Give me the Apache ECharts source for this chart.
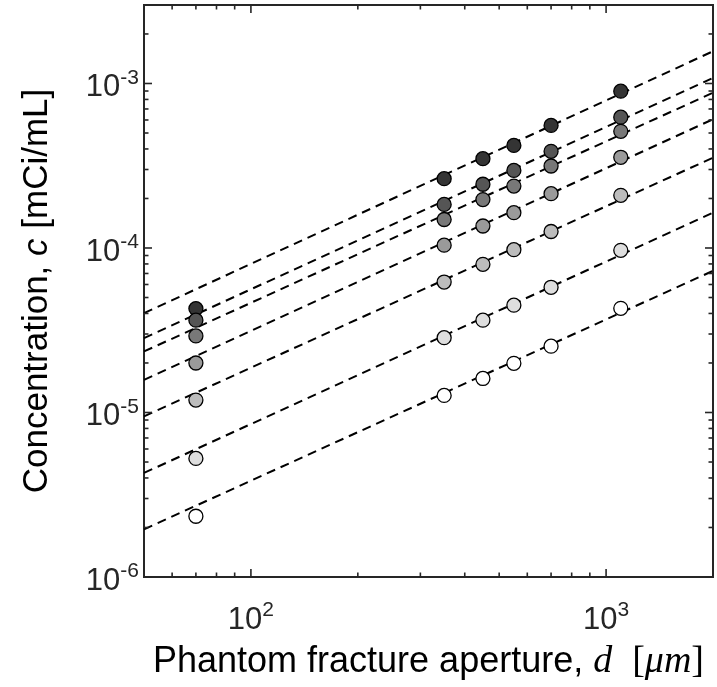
<!DOCTYPE html>
<html>
<head>
<meta charset="utf-8">
<script src="https://cdn.jsdelivr.net/npm/echarts@6/dist/echarts.min.js"></script>
<style>html,body{margin:0;padding:0;background:#fff;}#c{width:717px;height:687px;}</style>
</head>
<body>
<div id="c"></div>
<script>
// ---- data ----
const aperture = [70, 350, 450, 550, 700, 1100];            // d [um]
const conc1 = [4.28e-5, 2.64e-4, 3.49e-4, 4.20e-4, 5.56e-4, 8.98e-4];
const conc2 = [3.64e-5, 1.84e-4, 2.44e-4, 2.96e-4, 3.87e-4, 6.24e-4];
const conc3 = [2.92e-5, 1.49e-4, 1.97e-4, 2.38e-4, 3.15e-4, 5.12e-4];
const conc4 = [2.00e-5, 1.04e-4, 1.36e-4, 1.64e-4, 2.14e-4, 3.56e-4];
const conc5 = [1.19e-5, 6.21e-5, 7.96e-5, 9.77e-5, 1.26e-4, 2.09e-4];
const conc6 = [5.26e-6, 2.85e-5, 3.64e-5, 4.49e-5, 5.77e-5, 9.68e-5];
const conc7 = [2.34e-6, 1.27e-5, 1.61e-5, 1.99e-5, 2.53e-5, 4.30e-5];
const fitX = [50, 2000];
const fitStart = [4.02e-5, 2.83e-5, 2.35e-5, 1.58e-5, 9.48e-6, 4.29e-6, 1.95e-6];
const fitEnd   = [1.57e-3, 1.08e-3, 8.79e-4, 6.06e-4, 3.54e-4, 1.64e-4, 7.26e-5];
const markerColors = ['#343434', '#555555', '#787878', '#9a9a9a', '#bcbcbc', '#dedede', '#ffffff'];
// axis ticks
const xMajorTicks = [100, 1000];
const xMinorTicks = [60, 70, 80, 90, 200, 300, 400, 500, 600, 700, 800, 900];
const yMajorTicks = [1e-6, 1e-5, 1e-4, 1e-3];
const yMinorTicks = [2e-6,3e-6,4e-6,5e-6,6e-6,7e-6,8e-6,9e-6,
                     2e-5,3e-5,4e-5,5e-5,6e-5,7e-5,8e-5,9e-5,
                     2e-4,3e-4,4e-4,5e-4,6e-4,7e-4,8e-4,9e-4, 2e-3];
const X_MIN = 50, X_MAX = 2000, Y_MIN = 1e-6, Y_MAX = 3e-3;

const concs = [conc1, conc2, conc3, conc4, conc5, conc6, conc7];
const AX = '#262626';
const SANS = '"Liberation Sans", Arial, Helvetica, sans-serif';
const SERIF = '"Liberation Serif", "Times New Roman", serif';

function tickLabel(v) {
  const e = Math.log10(v);
  const r = Math.round(e);
  if (Math.abs(e - r) > 1e-6) return '';
  return '{b|10}{s|' + r + '}';
}
const labelRich = {
  b: { fontSize: 31, fontFamily: SANS, color: AX, lineHeight: 40 },
  s: { fontSize: 21, fontFamily: SANS, color: AX, verticalAlign: 'top', lineHeight: 24 }
};

function tickSeries(values, axis, len) {
  return {
    type: 'custom',
    silent: true,
    z: 10,
    data: values.map(v => axis === 'x' ? [v, Y_MIN] : [X_MIN, v]),
    renderItem: function (params, api) {
      const cs = params.coordSys;
      const p = api.coord([api.value(0), api.value(1)]);
      const st = { stroke: AX, lineWidth: 1.6 };
      if (axis === 'x') {
        const b = cs.y + cs.height, t = cs.y;
        return { type: 'group', children: [
          { type: 'line', shape: { x1: p[0], y1: b, x2: p[0], y2: b - len }, style: st },
          { type: 'line', shape: { x1: p[0], y1: t, x2: p[0], y2: t + len }, style: st }
        ]};
      } else {
        const l = cs.x, r = cs.x + cs.width;
        return { type: 'group', children: [
          { type: 'line', shape: { x1: l, y1: p[1], x2: l + len, y2: p[1] }, style: st },
          { type: 'line', shape: { x1: r, y1: p[1], x2: r - len, y2: p[1] }, style: st }
        ]};
      }
    }
  };
}

const series = [];
for (let i = 0; i < 7; i++) {
  series.push({
    type: 'line',
    data: [[fitX[0], fitStart[i]], [fitX[1], fitEnd[i]]],
    symbol: 'none',
    silent: true,
    z: 2,
    lineStyle: { color: '#000', width: 2, type: [9, 6] }
  });
}
for (let i = 0; i < 7; i++) {
  series.push({
    type: 'scatter',
    data: aperture.map((x, j) => [x, concs[i][j]]),
    symbol: 'circle',
    symbolSize: 14,
    z: 3,
    itemStyle: { color: markerColors[i], borderColor: '#000', borderWidth: 1.3, opacity: 1 }
  });
}
series.push(tickSeries(xMajorTicks, 'x', 8));
series.push(tickSeries(xMinorTicks, 'x', 4.5));
series.push(tickSeries(yMajorTicks, 'y', 8));
series.push(tickSeries(yMinorTicks, 'y', 4.5));

const chart = echarts.init(document.getElementById('c'), null, { renderer: 'canvas' });
chart.setOption({
  animation: false,
  backgroundColor: '#fff',
  grid: { left: 144, right: 4, top: 5, bottom: 110, show: true, borderColor: AX, borderWidth: 2, backgroundColor: 'transparent' },
  xAxis: {
    type: 'log', logBase: 10, min: X_MIN, max: X_MAX,
    axisLine: { show: false }, axisTick: { show: false }, splitLine: { show: false }, minorTick: { show: false },
    axisLabel: { formatter: tickLabel, rich: labelRich, margin: 23 },
    name: '{n|Phantom fracture aperture, }{m|d}{n|  }{r|[}{m|μm}{r|]}',
    nameLocation: 'middle', nameGap: 66,
    nameTextStyle: {
      rich: {
        n: { fontSize: 36, fontFamily: SANS, color: '#000' },
        m: { fontSize: 38, fontFamily: SERIF, fontStyle: 'italic', color: '#000' },
        r: { fontSize: 38, fontFamily: SERIF, color: '#000' }
      }
    }
  },
  yAxis: {
    type: 'log', logBase: 10, min: Y_MIN, max: Y_MAX,
    axisLine: { show: false }, axisTick: { show: false }, splitLine: { show: false }, minorTick: { show: false },
    axisLabel: { formatter: tickLabel, rich: labelRich, margin: 5, padding: [8, 0, 0, 0] },
    name: '{n|Concentration, }{i|c}{n| [mCi/mL]}',
    nameLocation: 'middle', nameGap: 89, nameRotate: 90,
    nameTextStyle: {
      rich: {
        n: { fontSize: 35, fontFamily: SANS, color: '#000' },
        i: { fontSize: 35, fontFamily: SANS, fontStyle: 'italic', color: '#000' }
      }
    }
  },
  series: series
});
</script>
</body>
</html>
